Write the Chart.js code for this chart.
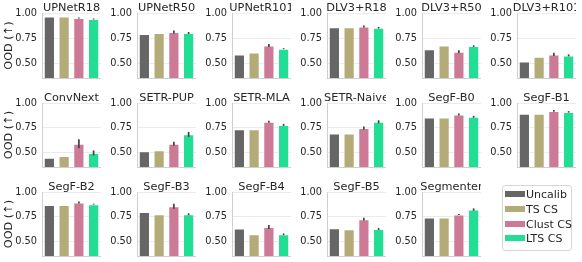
<!DOCTYPE html>
<html>
<head>
<meta charset="utf-8">
<script src="https://cdn.jsdelivr.net/npm/chart.js@4/dist/chart.umd.min.js"></script>
<style>
  html, body { margin: 0; padding: 0; background: #fff; }
  #wrap { position: relative; width: 582px; height: 262px; overflow: hidden; font-family: "DejaVu Sans", sans-serif; }
  canvas { position: absolute; }
  #legend { position: absolute; left: 502px; top: 185px; width: 70px; height: 66px; border: 1px solid #d6d6d6; border-radius: 3px; box-sizing: border-box; background: #fff; }
  .item { position: absolute; left: 2px; height: 14px; font-size: 11px; color: #262626; line-height: 14px; white-space: nowrap; }
  .sw { display: inline-block; width: 20px; height: 6px; margin-right: 1px; vertical-align: middle; position: relative; top: -1px; }
</style>
</head>
<body>
<div id="wrap"><div id="legend"></div></div>
<script>
// ---- data ----
const models = ['UPNetR18','UPNetR50','UPNetR101','DLV3+R18','DLV3+R50','DLV3+R101',
                'ConvNext','SETR-PUP','SETR-MLA','SETR-Naive','SegF-B0','SegF-B1',
                'SegF-B2','SegF-B3','SegF-B4','SegF-B5','Segmenter'];
const methods = ['Uncalib','TS CS','Clust CS','LTS CS'];
const uncalib = [0.965,0.790,0.587,0.859,0.638,0.516, 0.444,0.510,0.733,0.692,0.854,0.892, 0.867,0.797,0.629,0.632,0.742];
const tsCS    = [0.965,0.800,0.606,0.859,0.676,0.564, 0.463,0.520,0.733,0.692,0.854,0.892, 0.867,0.774,0.571,0.623,0.742];
const clustCS = [0.950,0.810,0.676,0.865,0.612,0.587, 0.587,0.587,0.810,0.746,0.883,0.920, 0.894,0.855,0.645,0.725,0.771];
const clustErr= [0.006,0.015,0.015,0.010,0.015,0.015, 0.045,0.020,0.010,0.015,0.010,0.008, 0.010,0.025,0.020,0.015,0.005];
const ltsCS   = [0.940,0.800,0.644,0.853,0.670,0.577, 0.494,0.682,0.778,0.810,0.860,0.910, 0.877,0.774,0.571,0.626,0.822];
const ltsErr  = [0.005,0.010,0.005,0.008,0.008,0.010, 0.025,0.025,0.010,0.015,0.010,0.008, 0.005,0.010,0.008,0.010,0.012];
const yTicks = [0.50, 0.75, 1.00];
const yMin = 0.35, yMax = 1.00;
const yLabel = 'OOD (\u2191)';
const colors = ['#666666','#b3ac78','#cc7a96','#22dd94'];

// ---- layout ----
const rowTop = [13, 103, 192];
const rowH = [68, 67, 67];
const colLeft = c => 42 + c * 95;
const axW = 59, yAxW = 41, padTop = 16, padBot = 8;

const wrap = document.getElementById('wrap');

const decor = {
  id: 'decor',
  afterDatasetsDraw(chart, args, opts) {
    const ctx = chart.ctx, ca = chart.chartArea;
    const meta = chart.getDatasetMeta(0);
    const ys = chart.scales.y;
    ctx.save();
    ctx.strokeStyle = '#424242';
    ctx.lineWidth = 1.7;
    opts.errs.forEach((e, i) => {
      if (!e) return;
      const v = chart.data.datasets[0].data[i];
      const x = meta.data[i].x;
      ctx.beginPath();
      ctx.moveTo(x, ys.getPixelForValue(v - e));
      ctx.lineTo(x, ys.getPixelForValue(v + e));
      ctx.stroke();
    });
    ctx.restore();
  },
  afterDraw(chart, args, opts) {
    const ctx = chart.ctx, ca = chart.chartArea;
    ctx.save();
    ctx.fillStyle = '#262626';
    ctx.font = '11.3px "DejaVu Sans"';
    ctx.textAlign = 'center';
    ctx.textBaseline = 'alphabetic';
    ctx.fillText(opts.title, (ca.left + ca.right) / 2, ca.top - 2.3);
    if (opts.ylabel) {
      ctx.translate(8, (ca.top + ca.bottom) / 2);
      ctx.rotate(-Math.PI / 2);
      ctx.textBaseline = 'middle';
      ctx.fillText(opts.ylabel, 0, 0);
    }
    ctx.restore();
  }
};

models.forEach((m, i) => {
  const r = Math.floor(i / 6), c = i % 6;
  const cv = document.createElement('canvas');
  const W = yAxW + axW, H = padTop + rowH[r] + padBot;
  cv.width = W; cv.height = H;
  cv.style.left = (colLeft(c) - yAxW) + 'px';
  cv.style.top = (rowTop[r] - padTop) + 'px';
  cv.style.width = W + 'px'; cv.style.height = H + 'px';
  wrap.insertBefore(cv, document.getElementById('legend'));
  new Chart(cv, {
    type: 'bar',
    data: {
      labels: methods,
      datasets: [{
        data: [uncalib[i], tsCS[i], clustCS[i], ltsCS[i]],
        backgroundColor: colors,
        borderColor: 'rgba(255,255,255,0.45)',
        borderWidth: 1,
        categoryPercentage: 1.0,
        barPercentage: 0.76
      }]
    },
    options: {
      responsive: false,
      devicePixelRatio: 1,
      animation: false,
      events: [],
      layout: { padding: { top: padTop, bottom: padBot, left: 0, right: 0 } },
      plugins: {
        legend: { display: false },
        tooltip: { enabled: false },
        title: { display: false },
        decor: { title: m, ylabel: c === 0 ? yLabel : null, errs: [0, 0, clustErr[i], ltsErr[i]] }
      },
      scales: {
        x: {
          grid: { display: false, drawTicks: false },
          ticks: { display: false },
          border: { display: true, color: '#cfcfcf', width: 1 },
          afterFit: s => { s.height = 0; }
        },
        y: {
          min: yMin, max: yMax,
          afterBuildTicks: s => { s.ticks = yTicks.map(v => ({ value: v })); },
          afterFit: s => { s.width = yAxW; },
          grid: { color: '#ebebeb', drawTicks: false, lineWidth: 1 },
          border: { display: true, color: '#cfcfcf', width: 1 },
          ticks: {
            padding: 5,
            color: '#262626',
            font: { family: 'DejaVu Sans', size: 9.8 },
            callback: v => Number(v).toFixed(2)
          }
        }
      }
    },
    plugins: [decor]
  });
});

// legend
const lg = document.getElementById('legend');
methods.forEach((name, k) => {
  const d = document.createElement('div');
  d.className = 'item';
  d.style.top = (2 + k * 14.8) + 'px';
  d.innerHTML = '<span class="sw" style="background:' + colors[k] + '"></span>' + name;
  lg.appendChild(d);
});
</script>
</body>
</html>
